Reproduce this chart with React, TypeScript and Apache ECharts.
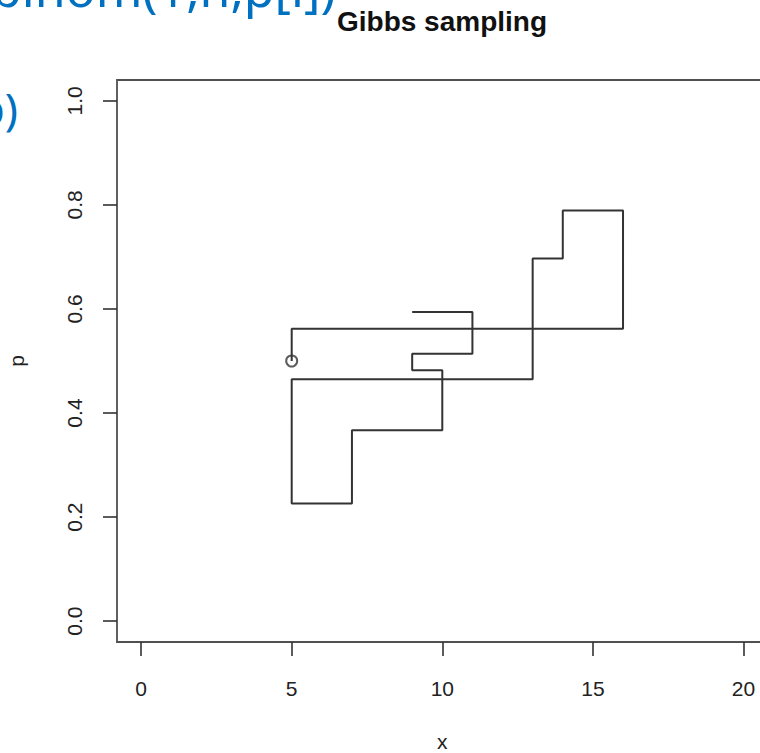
import React, { useEffect, useRef } from "react";
import * as echarts from "echarts";

// Gibbs sampler draws: x_i | p and p_i | x
const sampleX = [5, 16, 14, 13, 5, 7, 10, 9, 11, 9];
const sampleP = [0.5, 0.562, 0.789, 0.697, 0.465, 0.226, 0.367, 0.482, 0.514, 0.594];

const xTicks = [0, 5, 10, 15, 20];
const yTicks = [0, 0.2, 0.4, 0.6, 0.8, 1.0];

const titleText = "Gibbs sampling";
const slideTopText = "binom(1,n,p[i])";
const slideLeftText = "b)";

function buildPath(): number[][] {
  const pts: number[][] = [[sampleX[0], sampleP[0]]];
  for (let i = 1; i < sampleX.length; i++) {
    pts.push([sampleX[i - 1], sampleP[i]]);
    pts.push([sampleX[i], sampleP[i]]);
  }
  return pts;
}

export default function App() {
  const ref = useRef<HTMLDivElement>(null);
  useEffect(() => {
    if (!ref.current) return;
    const chart = echarts.init(ref.current, null, { renderer: "svg" });
    const font = "Liberation Sans";
    chart.setOption({
      animation: false,
      backgroundColor: "#ffffff",
      textStyle: { fontFamily: font },
      title: {
        text: titleText,
        left: 437,
        top: 2,
        textAlign: "center",
        textStyle: { fontSize: 28, fontWeight: "bold", color: "#111", fontFamily: font },
      },
      grid: {
        left: 117,
        top: 80,
        width: 650.6,
        height: 562,
        show: true,
        borderColor: "#505050",
        borderWidth: 1.8,
        backgroundColor: "transparent",
        outerBoundsMode: "none",
        containLabel: false,
      },
      xAxis: {
        type: "value",
        min: -0.8,
        max: 20.8,
        name: "x",
        nameLocation: "middle",
        nameGap: 89,
        nameTextStyle: { fontSize: 21, color: "#222", fontFamily: font },
        axisLine: { show: false, onZero: false },
        axisTick: { show: true, inside: false, customValues: xTicks, length: 14, lineStyle: { color: "#333", width: 1.6 } },
        axisLabel: { customValues: xTicks, margin: 36, fontSize: 21, color: "#222", fontFamily: font },
        splitLine: { show: false },
      },
      yAxis: {
        type: "value",
        min: -0.04,
        max: 1.04,
        name: "p",
        nameLocation: "middle",
        nameRotate: 90,
        nameGap: 90,
        nameTextStyle: { fontSize: 21, color: "#222", fontFamily: font },
        axisLine: { show: false, onZero: false },
        axisTick: { show: true, inside: false, customValues: yTicks, length: 14, lineStyle: { color: "#333", width: 1.6 } },
        axisLabel: {
          customValues: yTicks,
          rotate: 90,
          margin: 32,
          align: "center",
          verticalAlign: "bottom",
          fontSize: 21,
          color: "#222",
          fontFamily: font,
          formatter: (v: number) => v.toFixed(1),
        },
        splitLine: { show: false },
      },
      graphic: [
        {
          type: "text",
          style: {
            text: slideTopText,
            x: -9,
            y: -12,
            font: '50px "Noto Sans"',
            fill: "#0070C0",
            align: "left",
            verticalAlign: "middle",
          },
        },
        {
          type: "text",
          style: {
            text: slideLeftText,
            x: 18,
            y: 108,
            font: '44px "Noto Sans"',
            fill: "#0070C0",
            align: "right",
            verticalAlign: "middle",
          },
        },
      ],
      series: [
        {
          type: "line",
          data: buildPath(),
          symbol: "none",
          lineStyle: { color: "#333", width: 2 },
          z: 2,
        },
        {
          type: "scatter",
          data: [[sampleX[0], sampleP[0]]],
          symbol: "circle",
          symbolSize: 11,
          itemStyle: { color: "transparent", borderColor: "#333", borderWidth: 2 },
          z: 3,
        },
      ],
    });
    return () => chart.dispose();
  }, []);
  return (
    <div style={{ position: "absolute", left: 0, top: 0, width: 760, height: 753 }}>
      <div ref={ref} style={{ width: 760, height: 753 }} />
    </div>
  );
}
